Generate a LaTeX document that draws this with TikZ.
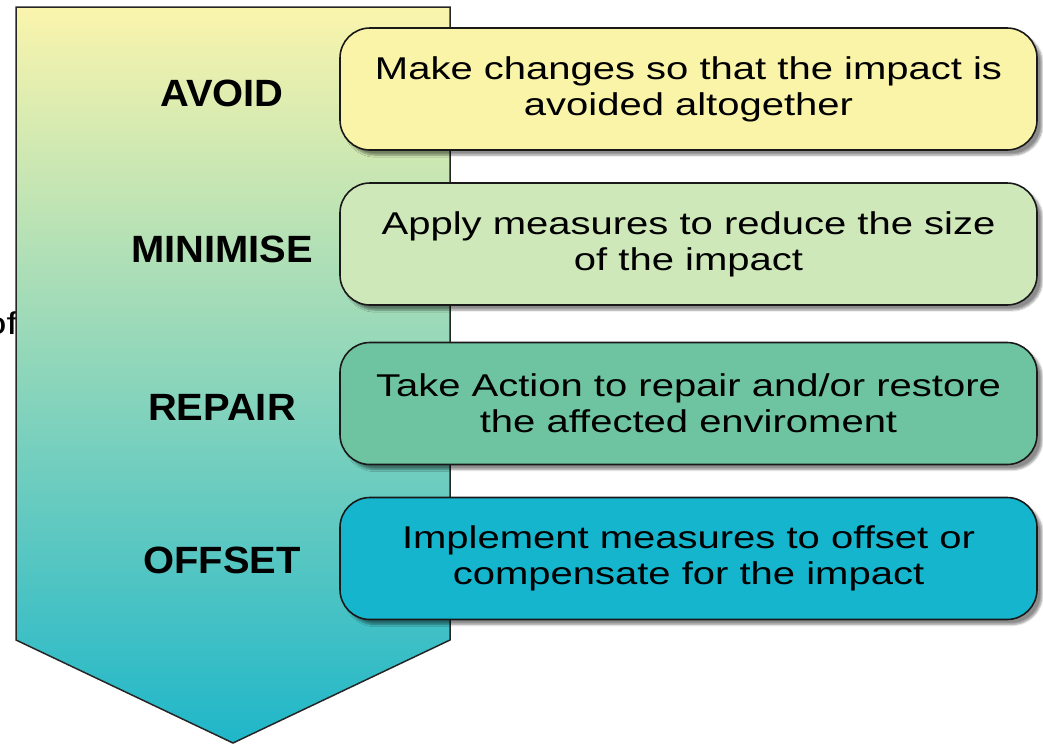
\documentclass[tikz,border=0pt]{standalone}
\usepackage{fontspec}
\setmainfont{Liberation Sans}
\newfontfamily\boxfont[FakeStretch=1.27]{Liberation Sans}
\newfontfamily\stepfont[FakeStretch=1.05]{Liberation Sans}
\usetikzlibrary{shadows.blur}

\definecolor{avoidcol}{RGB}{250,244,168}
\definecolor{minicol}{RGB}{206,232,186}
\definecolor{repaircol}{RGB}{110,196,160}
\definecolor{offsetcol}{RGB}{22,181,206}

\tikzset{
  actionbox/.style={draw=black!90, line width=1.6pt, rounded corners=30pt,
    minimum width=697pt, minimum height=122pt, align=center, inner sep=0pt,
    font=\boxfont\fontsize{31.5}{36}\selectfont,
    blur shadow={shadow xshift=5pt, shadow yshift=-5pt, shadow blur steps=6, shadow opacity=45}},
  steplabel/.style={font=\stepfont\bfseries\fontsize{38}{40}\selectfont, inner sep=0pt}
}

\begin{document}
\begin{tikzpicture}[x=1pt,y=-1pt]
					\useasboundingbox (0,0) rectangle (1043,745);
					%cut-off text behind the arrow
					\node[anchor=base east, inner sep=0pt, font=\boxfont\fontsize{31.5}{36}\selectfont] (ofword) at (18,334) {of};
					
					%ARROW
					\shade[top color=avoidcol!95!white, middle color=repaircol!55!minicol, bottom color=offsetcol!90!repaircol, shading angle=0]
					  (16,7) -- (450,7) -- (450,640) -- (233,743) -- (16,640) -- cycle;
					\draw[line width=1.5pt, black!85] (16,7) -- (450,7) -- (450,640) -- (233,743) -- (16,640) -- cycle;
					
					%STEPS
					\node[steplabel] (avoid) at (222,93) {AVOID};
					\node[steplabel] (minimise) at (222,249) {MINIMISE};
					\node[steplabel] (repair) at (222,407) {REPAIR};
					\node[steplabel] (offset) at (222,560) {OFFSET};
					
					%BOXES
					\node[actionbox, fill=avoidcol] (avoidbox) at (688.5,89) {Make changes so that the impact is\\avoided altogether};
					\node[actionbox, fill=minicol] (minibox) at (688.5,244) {Apply measures to reduce the size\\of the impact};
					\node[actionbox, fill=repaircol] (repairbox) at (688.5,403.5) {Take Action to repair and/or restore\\the affected enviroment};
					\node[actionbox, fill=offsetcol] (offsetbox) at (688.5,558.5) {Implement measures to offset or\\compensate for the impact};
					
				  \end{tikzpicture}
\end{document}
